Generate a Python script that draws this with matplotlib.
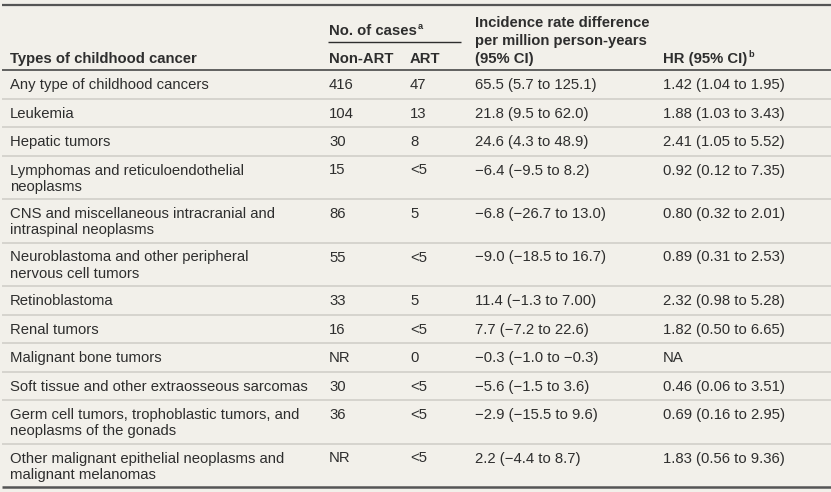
"""Childhood cancer table: ART vs non-ART incidence and hazard ratios."""

import matplotlib
matplotlib.use("Agg")
import matplotlib.pyplot as plt

# Table data
cancer_types = [
    "Any type of childhood cancers",
    "Leukemia",
    "Hepatic tumors",
    "Lymphomas and reticuloendothelial\nneoplasms",
    "CNS and miscellaneous intracranial and\nintraspinal neoplasms",
    "Neuroblastoma and other peripheral\nnervous cell tumors",
    "Retinoblastoma",
    "Renal tumors",
    "Malignant bone tumors",
    "Soft tissue and other extraosseous sarcomas",
    "Germ cell tumors, trophoblastic tumors, and\nneoplasms of the gonads",
    "Other malignant epithelial neoplasms and\nmalignant melanomas",
]
non_art = ["416", "104", "30", "15", "86", "55", "33", "16", "NR", "30", "36", "NR"]
art = ["47", "13", "8", "<5", "5", "<5", "5", "<5", "0", "<5", "<5", "<5"]
rate_diff = [
    "65.5 (5.7 to 125.1)",
    "21.8 (9.5 to 62.0)",
    "24.6 (4.3 to 48.9)",
    "\u22126.4 (\u22129.5 to 8.2)",
    "\u22126.8 (\u221226.7 to 13.0)",
    "\u22129.0 (\u221218.5 to 16.7)",
    "11.4 (\u22121.3 to 7.00)",
    "7.7 (\u22127.2 to 22.6)",
    "\u22120.3 (\u22121.0 to \u22120.3)",
    "\u22125.6 (\u22121.5 to 3.6)",
    "\u22122.9 (\u221215.5 to 9.6)",
    "2.2 (\u22124.4 to 8.7)",
]
hazard_ratio = [
    "1.42 (1.04 to 1.95)",
    "1.88 (1.03 to 3.43)",
    "2.41 (1.05 to 5.52)",
    "0.92 (0.12 to 7.35)",
    "0.80 (0.32 to 2.01)",
    "0.89 (0.31 to 2.53)",
    "2.32 (0.98 to 5.28)",
    "1.82 (0.50 to 6.65)",
    "NA",
    "0.46 (0.06 to 3.51)",
    "0.69 (0.16 to 2.95)",
    "1.83 (0.56 to 9.36)",
]

plt.rcParams["font.family"] = ["Liberation Sans", "DejaVu Sans"]

bg = "#f2f0ea"
ink = "#2e2e2e"
fs = 10.7

W, H = 831, 492
fig = plt.figure(figsize=(W / 100, H / 100), dpi=100, facecolor=bg)
ax = fig.add_axes([0, 0, 1, 1])
ax.set_xlim(0, W)
ax.set_ylim(H, 0)
ax.axis("off")

col_x = [10, 329, 410, 475, 663]
base = 5  # baseline offset below a line's centre

# header
ax.hlines(5, 2, W, color="#555555", lw=1.6)
ax.hlines(42, 328, 461, color=ink, lw=1.0)
ax.hlines(70, 2, W, color="#555555", lw=1.3)

hdr = dict(fontsize=fs, fontweight="bold", color=ink, va="baseline")
ax.text(col_x[0], 58 + base, "Types of childhood cancer", **hdr)
t = ax.text(col_x[1], 30 + base, "No. of cases", **hdr)
ax.text(col_x[1], 58 + base, "Non-ART", **hdr)
ax.text(col_x[2], 58 + base, "ART", **hdr)
ax.text(col_x[3], 22 + base, "Incidence rate difference", **hdr)
ax.text(col_x[3], 40 + base, "per million person-years", **hdr)
ax.text(col_x[3], 58 + base, "(95% CI)", **hdr)
t2 = ax.text(col_x[4], 58 + base, "HR (95% CI)", **hdr)

fig.canvas.draw()
inv = ax.transData.inverted()
for txt, y, letter in [(t, 30, "a"), (t2, 58, "b")]:
    bb = txt.get_window_extent()
    x1 = inv.transform((bb.x1, bb.y0))[0]
    ax.text(x1 + 1, y - 1, letter, fontsize=fs * 0.62, fontweight="bold",
            color=ink, va="baseline")

# body rows
y = 70
single, double = 28.5, 43.5
for i, name in enumerate(cancer_types):
    lines = name.split("\n")
    h = single if len(lines) == 1 else double
    first = y + h / 2 if len(lines) == 1 else y + 14
    for k, line in enumerate(lines):
        ax.text(col_x[0], first + 16 * k + base, line, fontsize=fs, color=ink,
                va="baseline")
    for x, val in zip(col_x[1:], [non_art[i], art[i], rate_diff[i], hazard_ratio[i]]):
        ax.text(x, first + base, val, fontsize=fs, color=ink, va="baseline")
    y += h
    if i < len(cancer_types) - 1:
        ax.hlines(y, 2, W, color="#d4d2cc", lw=1.3)

ax.hlines(y, 2, W, color="#555555", lw=1.8)

fig.savefig("out.png", dpi=100, facecolor=bg)
